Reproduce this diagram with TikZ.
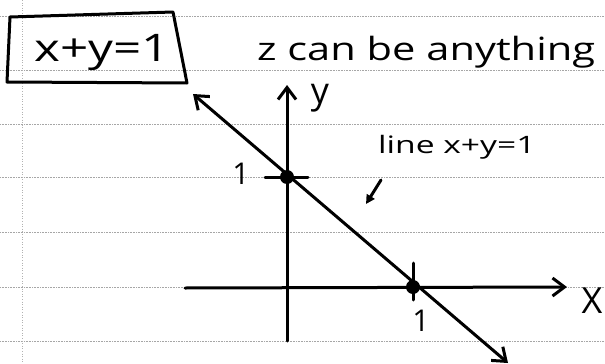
\documentclass[tikz,border=0pt]{standalone}
\usepackage{fontspec}
\setmainfont{Open Sans}
\usetikzlibrary{arrows.meta}
\tikzset{
  ruled/.style={gray!70, line width=0.6pt, densely dotted},
  pen/.style={black, line width=3pt, line cap=round, line join=round},
  tip/.style={-{Straight Barb[length=12pt,width=18pt,line width=3pt]}},
  both tips/.style={{Straight Barb[length=12pt,width=18pt,line width=3pt]}-{Straight Barb[length=12pt,width=18pt,line width=3pt]}},
  hand/.style={font=\fontsize{30}{32}\selectfont, inner sep=0pt},
  small hand/.style={font=\fontsize{24}{26}\selectfont, inner sep=0pt},
  dotpt/.style={circle, fill=black, minimum size=14pt, inner sep=0pt}
}
\newcommand{\wide}[2]{\scalebox{#1}[1]{#2}}
\begin{document}
\begin{tikzpicture}[x=1pt,y=-1pt]
\useasboundingbox (0,0) rectangle (605,364);
\fill[white] (0,0) rectangle (605,364);
% ruled paper
\foreach \yy in {16,70,124,177,232,287,341} \draw[ruled] (0,\yy) -- (605,\yy);
\draw[gray!60, line width=0.6pt, dotted] (22,0) -- (22,364);
% boxed equation
\draw[pen] (10,17) -- (173,12) -- (187,83) -- (7,82) -- cycle;
\node[hand, font=\fontsize{38}{40}\selectfont] (eq) at (102,53) {\wide{1.3}{x+y=1}};
% title
\node[hand, anchor=west, font=\fontsize{32}{34}\selectfont] (zt) at (257,52) {\wide{1.3}{z can be anything}};
% axes
\coordinate (O) at (287,287);
\coordinate (xl) at (185,288);
\coordinate (xr) at (567,287);
\coordinate (yb) at (287,341);
\coordinate (yt) at (287,85);
\draw[pen, tip] (xl) -- (xr);
\draw[pen, tip] (yb) -- (yt);
\node[hand, font=\fontsize{36}{38}\selectfont] (xlab) at (592,301) {X};
\node[hand, font=\fontsize{36}{38}\selectfont] (ylab) at (320,98) {y};
% intercept points
\node[dotpt] (A) at (287,177) {};
\node[dotpt] (B) at (413,287) {};
\coordinate (L1) at (193,94);
\coordinate (L2) at (508,363);
\draw[pen, both tips] (L1) -- (L2);
% ticks
\coordinate (ta) at (265,177);
\coordinate (tb) at (308,177);
\draw[pen] (ta) -- (tb);
\coordinate (tc) at (413,263);
\coordinate (td) at (413,300);
\draw[pen] (tc) -- (td);
\node[hand] (one y) at (241,174) {1};
\node[hand] (one x) at (421,321) {1};
% label for line
\node[small hand, anchor=west] (linelab) at (378,147) {\wide{1.4}{line x+y=1}};
\coordinate (pa) at (381,180);
\coordinate (pb) at (366,204);
\draw[pen, -{Triangle[length=9pt,width=9pt]}] (pa) -- (pb);
\end{tikzpicture}
\end{document}
